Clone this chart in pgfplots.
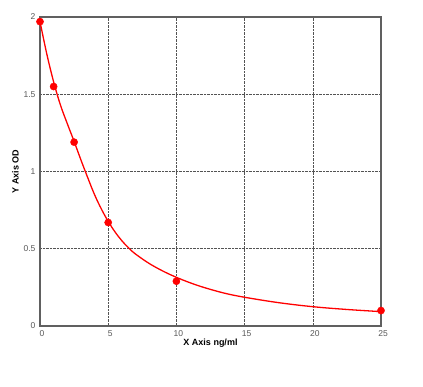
\documentclass[border=0pt]{standalone}
\usepackage{pgfplots}
\pgfplotsset{compat=1.18}
\usepackage{fontspec}
\setmainfont{Liberation Sans}
\begin{document}
\begin{tikzpicture}
\useasboundingbox[fill=white] (-40pt,-60pt) rectangle (383pt,326pt);
\begin{axis}[
  at={(0pt,0pt)}, anchor=south west,
  scale only axis, width=341pt, height=309pt,
  xmin=0, xmax=25, ymin=0, ymax=2,
  xtick={0,5,10,15,20,25}, ytick={0,0.5,1,1.5,2},
  yticklabels={0,0.5,1,1.5,2},
  grid=major,
  major grid style={densely dotted, gray!65!black, line width=0.6pt},
  axis line style={gray!75!black, line width=1.3pt},
  major tick length=0pt,
  tick label style={font=\fontsize{8.5}{9}\selectfont, text=gray!70!black},
  /pgf/number format/assume math mode=true,
  xticklabel style={yshift=-1pt, xshift=2pt},
  yticklabel style={xshift=-1pt},
  xlabel={\textbf{X Axis ng/ml}},
  ylabel={\textbf{Y Axis OD}},
  label style={font=\fontsize{9}{10}\selectfont},
  xlabel style={yshift=4pt},
  ylabel style={yshift=-2pt},
  clip=false,
]
\addplot[red, line width=1.3pt, smooth, tension=0.6] coordinates {
(0,1.97) (0.5,1.76) (1,1.58) (1.5,1.43) (2,1.31) (2.5,1.195) (3,1.075)
(3.5,0.96) (4,0.85) (4.5,0.757) (5,0.677) (5.5,0.609) (6,0.552) (6.5,0.505)
(7,0.466) (8,0.405) (9,0.356) (10,0.315) (11,0.28) (12,0.25) (13.5,0.213)
(15,0.186) (17.5,0.151) (20,0.125) (22.5,0.107) (25,0.093)};
\addplot[only marks, mark=*, mark size=3.6pt, red] coordinates {
(0,1.97) (1,1.55) (2.5,1.19) (5,0.67) (10,0.29) (25,0.10)};
\end{axis}
\end{tikzpicture}
\end{document}
